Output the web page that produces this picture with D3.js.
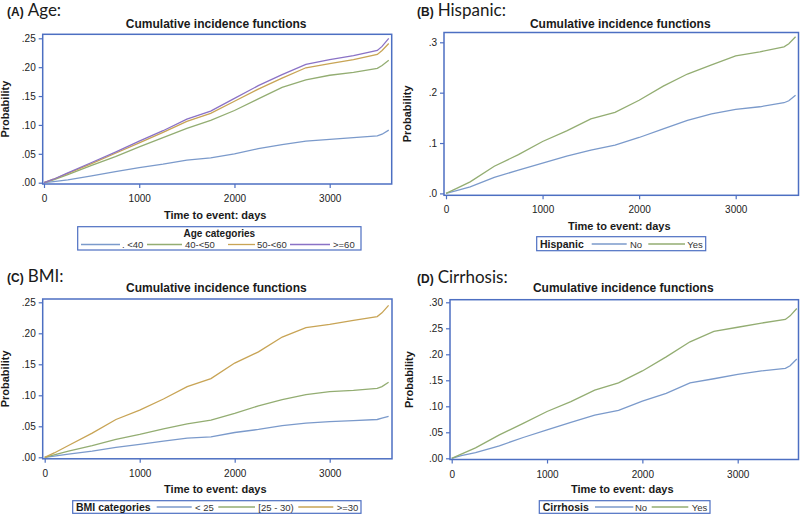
<!DOCTYPE html>
<html><head><meta charset="utf-8">
<script src="https://cdn.jsdelivr.net/npm/d3@7"></script>
<style>
html,body{margin:0;padding:0;background:#fff;}
svg{display:block;}
</style></head>
<body>
<svg id="chart" width="800" height="514"></svg>
<script>
// ---------- DATA ----------
const days = [0, 100, 250, 500, 750, 1000, 1250, 1500, 1750, 2000, 2250, 2500, 2750, 3000, 3250, 3500, 3550, 3620];

// (A) Age
const ageCategories = [". <40", "40-<50", "50-<60", ">=60"];
const ageLt40   = [0, 0.002, 0.005, 0.012, 0.019, 0.026, 0.032, 0.039, 0.043, 0.050, 0.059, 0.066, 0.072, 0.075, 0.078, 0.081, 0.084, 0.091];
const age40to50 = [0, 0.005, 0.014, 0.030, 0.045, 0.062, 0.078, 0.094, 0.108, 0.125, 0.145, 0.165, 0.178, 0.186, 0.191, 0.198, 0.203, 0.212];
const age50to60 = [0, 0.006, 0.016, 0.033, 0.051, 0.069, 0.087, 0.106, 0.120, 0.141, 0.162, 0.181, 0.199, 0.206, 0.213, 0.222, 0.229, 0.241];
const ageGe60   = [0, 0.006, 0.017, 0.035, 0.053, 0.072, 0.090, 0.110, 0.124, 0.146, 0.168, 0.187, 0.205, 0.213, 0.220, 0.229, 0.236, 0.250];

// (B) Hispanic
const hispanicCategories = ["No", "Yes"];
const hispanicNo  = [0, 0.005, 0.013, 0.032, 0.046, 0.060, 0.074, 0.086, 0.096, 0.111, 0.128, 0.145, 0.158, 0.167, 0.172, 0.180, 0.184, 0.195];
const hispanicYes = [0, 0.009, 0.023, 0.054, 0.077, 0.103, 0.124, 0.148, 0.161, 0.185, 0.213, 0.237, 0.255, 0.273, 0.281, 0.291, 0.297, 0.311];

// (C) BMI
const bmiCategories = ["< 25", "[25 - 30)", ">=30"];
const bmiLt25   = [0, 0.002, 0.005, 0.010, 0.016, 0.021, 0.026, 0.031, 0.033, 0.040, 0.045, 0.051, 0.055, 0.0575, 0.059, 0.061, 0.063, 0.066];
const bmi25to30 = [0, 0.004, 0.010, 0.019, 0.029, 0.037, 0.046, 0.054, 0.060, 0.071, 0.083, 0.093, 0.101, 0.106, 0.108, 0.111, 0.114, 0.121];
const bmiGe30   = [0, 0.007, 0.019, 0.039, 0.061, 0.076, 0.094, 0.114, 0.127, 0.152, 0.170, 0.194, 0.209, 0.2145, 0.221, 0.227, 0.233, 0.245];

// (D) Cirrhosis
const cirrhosisCategories = ["No", "Yes"];
const cirrhosisNo  = [0, 0.005, 0.011, 0.024, 0.040, 0.0545, 0.069, 0.083, 0.092, 0.110, 0.125, 0.145, 0.153, 0.1615, 0.168, 0.173, 0.178, 0.191];
const cirrhosisYes = [0, 0.008, 0.020, 0.045, 0.067, 0.090, 0.109, 0.131, 0.145, 0.168, 0.195, 0.224, 0.244, 0.252, 0.260, 0.267, 0.274, 0.288];

const xTicks = [0, 1000, 2000, 3000];
const yTicksAC = [0, 0.05, 0.10, 0.15, 0.20, 0.25];
const yTicksB  = [0, 0.1, 0.2, 0.3];
const yTicksD  = [0, 0.05, 0.10, 0.15, 0.20, 0.25, 0.30];

// ---------- STYLE ----------
const C_BLUE = "#7b9acb", C_GREEN = "#93ad72", C_GOLD = "#c8a455", C_PURPLE = "#8a72c6";
const FRAME = "#4d6fc2";
const TXT = "#1a1a1a";
const SANS = "'Liberation Sans', Arial, sans-serif";
const HEAD = "Lato, 'Open Sans', sans-serif";

const panels = [
  { letter:"(A)", name:"Age:", labelX:7, labelY:15.5,
    box:[42.7, 34.3, 391.7, 184], xr:[44, 329.7], yr:[182.7, 38.3], yTop:0.25, yTicks:yTicksAC, fmt:2,
    titleY:28, ytitleX:9, xtitleY:219,
    series:[ageLt40, age40to50, age50to60, ageGe60], colors:[C_BLUE, C_GREEN, C_GOLD, C_PURPLE],
    legend:{box:[77.7,226.7,361,250], title:"Age categories", titleCentered:true, titleY:237, rowY:248,
      names:ageCategories, keys:[[81,120],[147,182],[228,255],[290,330]], labels:[122,185,257,333]} },
  { letter:"(B)", name:"Hispanic:", labelX:417, labelY:15.5,
    box:[444, 32.5, 798.5, 195.3], xr:[446, 735.7], yr:[193.4, 42.3], yTop:0.3, yTicks:yTicksB, fmt:1,
    titleY:28, ytitleX:411, xtitleY:229.5,
    series:[hispanicNo, hispanicYes], colors:[C_BLUE, C_GREEN],
    legend:{box:[536.7,236.7,705.7,250.7], title:"Hispanic", titleX:540, rowY:247.5,
      names:hispanicCategories, keys:[[591.7,626.7],[648.3,685]], labels:[630,687.3]} },
  { letter:"(C)", name:"BMI:", labelX:7, labelY:282,
    box:[42.7, 299, 392, 458.8], xr:[44.7, 329.7], yr:[457.3, 302.3], yTop:0.25, yTicks:yTicksAC, fmt:2,
    titleY:292, ytitleX:9, xtitleY:493,
    series:[bmiLt25, bmi25to30, bmiGe30], colors:[C_BLUE, C_GREEN, C_GOLD],
    legend:{box:[72.7,500.7,361,513.3], title:"BMI categories", titleX:76, rowY:510.5,
      names:bmiCategories, keys:[[156.7,191.7],[218.3,255],[298.3,333.3]], labels:[195,258.3,336.7]} },
  { letter:"(D)", name:"Cirrhosis:", labelX:417, labelY:283,
    box:[450, 299.7, 798.5, 459.5], xr:[451.7, 737.7], yr:[458.3, 302.3], yTop:0.30, yTicks:yTicksD, fmt:2,
    titleY:292, ytitleX:413, xtitleY:493,
    series:[cirrhosisNo, cirrhosisYes], colors:[C_BLUE, C_GREEN],
    legend:{box:[539.3,500.7,710,513.3], title:"Cirrhosis", titleX:542.7, rowY:510.5,
      names:cirrhosisCategories, keys:[[595,633.3],[651.7,688.3]], labels:[635,691.7]} }
];

const svg = d3.select("#chart");

function fmtTick(v, n){ return d3.format("." + n + "f")(v).replace(/^0/, ""); }

panels.forEach(p => {
  const g = svg.append("g");
  const [bx0, by0, bx1, by1] = p.box;
  const x = d3.scaleLinear().domain([0, 3000]).range(p.xr);
  const y = d3.scaleLinear().domain([0, p.yTop]).range(p.yr);

  // panel label
  const lab = g.append("text").attr("x", p.labelX).attr("y", p.labelY).attr("fill", TXT);
  lab.append("tspan").attr("font-family", SANS).attr("font-weight", "bold").attr("font-size", 12).text(p.letter);
  lab.append("tspan").attr("font-family", HEAD).attr("font-size", 17).attr("dx", 4).text(p.name);

  // title
  g.append("text").attr("x", (bx0 + bx1) / 2 - 1).attr("y", p.titleY)
    .attr("text-anchor", "middle").attr("font-family", SANS).attr("font-weight", "bold")
    .attr("font-size", 12).attr("fill", TXT).text("Cumulative incidence functions");

  // axes
  const xAxis = d3.axisBottom(x).tickValues(xTicks).tickSize(4).tickPadding(7).tickFormat(d3.format("d"));
  const gx = g.append("g").attr("transform", `translate(0,${by1})`).call(xAxis);
  const yAxis = d3.axisLeft(y).tickValues(p.yTicks).tickSize(4).tickPadding(3).tickFormat(v => fmtTick(v, p.fmt));
  const gy = g.append("g").attr("transform", `translate(${bx0},0)`).call(yAxis);
  [gx, gy].forEach(a => {
    a.select(".domain").remove();
    a.selectAll(".tick line").attr("stroke", FRAME).attr("stroke-width", 1.2);
    a.selectAll(".tick text").attr("fill", "#222").attr("font-family", SANS).attr("font-size", 10);
  });

  // lines
  const line = d3.line().x((d, i) => x(days[i])).y(d => y(d));
  p.series.forEach((s, k) => {
    g.append("path").datum(s).attr("d", line).attr("fill", "none")
      .attr("stroke", p.colors[k]).attr("stroke-width", 1.3);
  });

  // frame
  g.append("rect").attr("x", bx0).attr("y", by0).attr("width", bx1 - bx0).attr("height", by1 - by0)
    .attr("fill", "none").attr("stroke", FRAME).attr("stroke-width", 1.5);

  // axis titles
  g.append("text").attr("transform", `translate(${p.ytitleX},${(by0 + by1) / 2}) rotate(-90)`)
    .attr("text-anchor", "middle").attr("font-family", SANS).attr("font-weight", "bold")
    .attr("font-size", 11).attr("fill", TXT).text("Probability");
  g.append("text").attr("x", (bx0 + bx1) / 2 - 2).attr("y", p.xtitleY)
    .attr("text-anchor", "middle").attr("font-family", SANS).attr("font-weight", "bold")
    .attr("font-size", 11).attr("fill", TXT).text("Time to event: days");

  // legend
  const L = p.legend;
  g.append("rect").attr("x", L.box[0]).attr("y", L.box[1]).attr("width", L.box[2] - L.box[0])
    .attr("height", L.box[3] - L.box[1]).attr("fill", "#fff").attr("stroke", FRAME).attr("stroke-width", 1.2);
  if (L.titleCentered) {
    g.append("text").attr("x", (L.box[0] + L.box[2]) / 2).attr("y", L.titleY).attr("text-anchor", "middle")
      .attr("font-family", SANS).attr("font-weight", "bold").attr("font-size", 10).attr("fill", TXT).text(L.title);
  } else {
    g.append("text").attr("x", L.titleX).attr("y", L.rowY + 0.5)
      .attr("font-family", SANS).attr("font-weight", "bold").attr("font-size", 10.5).attr("fill", TXT).text(L.title);
  }
  L.names.forEach((nm, k) => {
    g.append("line").attr("x1", L.keys[k][0]).attr("x2", L.keys[k][1])
      .attr("y1", L.rowY - 3.5).attr("y2", L.rowY - 3.5)
      .attr("stroke", p.colors[k]).attr("stroke-width", 1.3);
    g.append("text").attr("x", L.labels[k]).attr("y", L.rowY)
      .attr("font-family", SANS).attr("font-size", 9.5).attr("fill", "#333").text(nm);
  });
});
</script>
</body></html>
